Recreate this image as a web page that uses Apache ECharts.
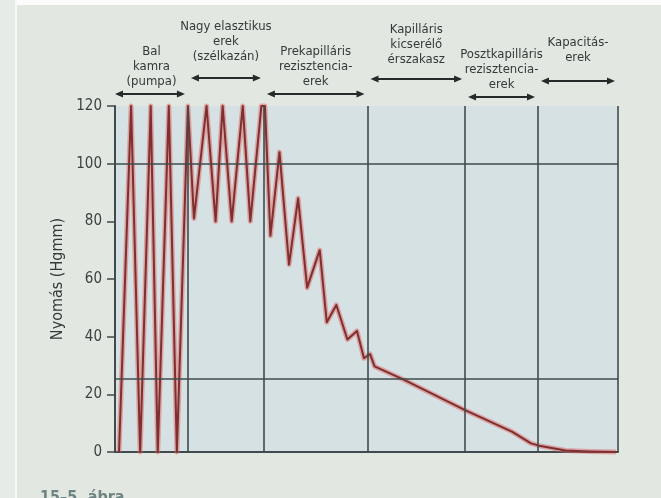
<!DOCTYPE html>
<html>
<head>
<meta charset="utf-8">
<script src="https://cdn.jsdelivr.net/npm/echarts@6/dist/echarts.min.js"></script>
<style>
  html, body { margin: 0; padding: 0; }
  #chart {
    width: 661px; height: 498px;
    background:
      linear-gradient(to right, #e7ebe8 0 15px, #f7f8f6 15px 17px, transparent 17px),
      linear-gradient(to bottom, #fbfcfb 0 5px, transparent 5px),
      #e3e7e1;
  }
</style>
</head>
<body>
<div id="chart"></div>
<script>
// Relative position along the vascular tree (0 = left ventricle, 100 = venous end)
const position = [
  0.8, 3.2, 5.0, 7.1, 8.5, 10.7, 12.3, 14.5,
  15.7, 18.2, 20.0, 21.4, 23.2, 25.4, 26.9, 29.1, 29.8,
  30.9, 32.7, 34.6, 36.4, 38.2, 40.7, 42.1, 44.0, 46.2, 48.1, 49.5, 50.7, 51.6,
  57.5, 69.6, 79.0, 82.7, 84.3, 89.6, 94.2, 99.6
];
// Blood pressure (Hgmm) at each position
const pressure = [
  0, 120, 0, 120, 0, 120, 0, 120,
  81, 120, 80, 120, 80, 120, 80, 120, 120,
  75, 104, 65, 88, 57, 70, 45, 51, 39, 42, 32.5, 34, 29.7,
  25, 14.5, 7, 3, 2.2, 0.5, 0.2, 0
];

// Boundaries between vessel sections
const sectionBounds = [0, 14.5, 29.6, 50.2, 69.6, 84.1, 100];
// Reference pressure levels drawn across the plot
const pressureLevels = [25.5, 100];
// Section names shown above the plot
const sectionNames = [
  ['Bal', 'kamra', '(pumpa)'],
  ['Nagy elasztikus', 'erek', '(szélkazán)'],
  ['Prekapilláris', 'rezisztencia-', 'erek'],
  ['Kapilláris', 'kicserélő', 'érszakasz'],
  ['Posztkapilláris', 'rezisztencia-', 'erek'],
  ['Kapacitás-', 'erek']
];
const yTicks = [0, 20, 40, 60, 80, 100, 120];

// Vertical placement of each section label (first text line centre, arrow row)
const labelLayout = [
  { textY: 52, arrowY: 94 },
  { textY: 27, arrowY: 78 },
  { textY: 52, arrowY: 94 },
  { textY: 30, arrowY: 79 },
  { textY: 55, arrowY: 97 },
  { textY: 43, arrowY: 81 }
];

const FONT = "'Liberation Sans Narrow', 'DejaVu Sans Condensed', 'Liberation Sans', sans-serif";
const INK = '#343a3a';
const GRIDLINE = '#3f4b4d';

const points = position.map((x, i) => [x, pressure[i]]);

const chart = echarts.init(document.getElementById('chart'), null, { renderer: 'canvas' });

chart.setOption({
  animation: false,
  grid: {
    left: 115, right: 43, top: 106, bottom: 46,
    show: true, backgroundColor: '#d5e1e3', borderWidth: 0
  },
  xAxis: {
    type: 'value', min: 0, max: 100,
    axisLine: { show: true, onZero: false, lineStyle: { color: GRIDLINE, width: 2 } },
    axisTick: { show: false }, axisLabel: { show: false }, splitLine: { show: false }
  },
  yAxis: {
    type: 'value', min: yTicks[0], max: yTicks[yTicks.length - 1], interval: 20,
    name: 'Nyomás (Hgmm)', nameLocation: 'middle', nameGap: 46, nameRotate: 90,
    nameTextStyle: { fontFamily: FONT, fontSize: 16, color: INK },
    axisLine: { show: true, lineStyle: { color: GRIDLINE, width: 2 } },
    axisTick: { show: true, length: 8, lineStyle: { color: GRIDLINE, width: 1.5 } },
    axisLabel: { fontFamily: FONT, fontSize: 15, color: '#3c4242', margin: 13 },
    splitLine: { show: false }
  },
  series: [
    {
      // section dividers and reference levels
      type: 'line', data: [], z: 1, silent: true,
      markLine: {
        silent: true, symbol: ['none', 'none'], label: { show: false },
        lineStyle: { color: GRIDLINE, width: 1.6, type: 'solid' },
        data: [
          ...sectionBounds.slice(1).map(v => ({ xAxis: v })),
          ...pressureLevels.map(v => ({ yAxis: v }))
        ]
      }
    },
    {
      // soft red halo of the pressure curve
      type: 'line', data: points, symbol: 'none', z: 2, silent: true, clip: false,
      lineStyle: { color: 'rgba(225,100,100,0.5)', width: 5, join: 'round' }
    },
    {
      type: 'line', data: points, symbol: 'none', z: 3, clip: false,
      lineStyle: { color: '#7e2f2f', width: 2, join: 'round' }
    }
  ]
});

// Section labels with double-headed arrows above the plot
function arrow(x1, x2, y) {
  const h = 8, w = 3.5;
  return [
    { type: 'line', shape: { x1: x1 + h - 1, y1: y, x2: x2 - h + 1, y2: y },
      style: { stroke: '#262a2a', lineWidth: 1.8 } },
    { type: 'polygon', shape: { points: [[x1, y], [x1 + h, y - w], [x1 + h, y + w]] },
      style: { fill: '#262a2a' } },
    { type: 'polygon', shape: { points: [[x2, y], [x2 - h, y - w], [x2 - h, y + w]] },
      style: { fill: '#262a2a' } }
  ];
}

const elements = [];
sectionNames.forEach((lines, i) => {
  const xa = chart.convertToPixel({ gridIndex: 0 }, [sectionBounds[i], 0])[0];
  const xb = chart.convertToPixel({ gridIndex: 0 }, [sectionBounds[i + 1], 0])[0];
  const lay = labelLayout[i];
  const cx = (xa + xb) / 2;
  lines.forEach((t, k) => {
    elements.push({
      type: 'text', x: cx, y: lay.textY + k * 15,
      style: { text: t, fontFamily: FONT, fontSize: 13, fill: INK,
               align: 'center', verticalAlign: 'middle' }
    });
  });
  elements.push(...arrow(xa + (i === 0 ? 0 : 3), xb - 3, lay.arrowY));
});

// Figure caption along the bottom edge
elements.push({
  type: 'text', x: 40, y: 490,
  style: { text: '15–5. ábra', fontFamily: FONT, fontSize: 16, fontWeight: 'bold',
           fill: '#6d8482', verticalAlign: 'top' }
});

chart.setOption({ graphic: { elements } });
</script>
</body>
</html>
